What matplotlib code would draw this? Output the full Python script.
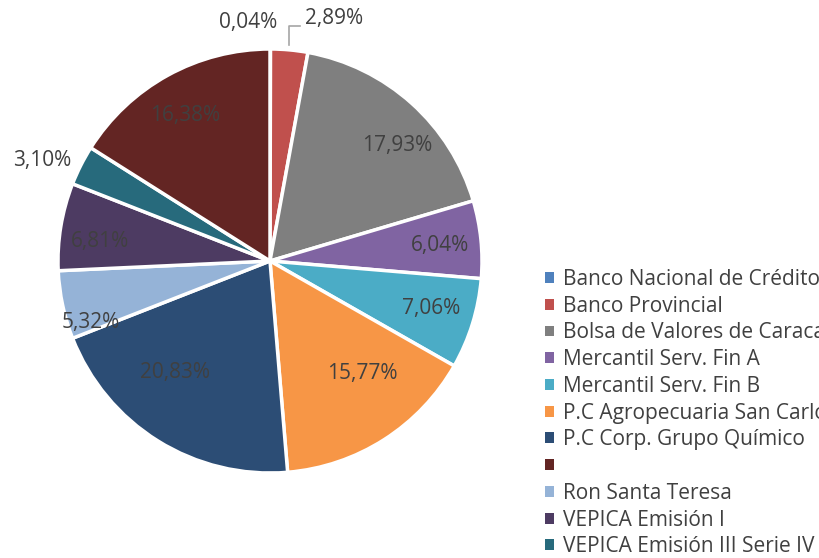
import matplotlib.pyplot as plt
from matplotlib.patches import Patch

# slices in drawing order (clockwise from the top)
slice_names = ['Banco Nacional de Crédito', 'Banco Provincial', 'Bolsa de Valores de Caracas',
               'Mercantil Serv. Fin A', 'Mercantil Serv. Fin B', 'P.C Agropecuaria San Carlos',
               'P.C Corp. Grupo Químico', 'Ron Santa Teresa', 'VEPICA Emisión I',
               'VEPICA Emisión III Serie IV', '']
values = [0.04, 2.89, 17.93, 6.04, 7.06, 15.77, 20.83, 5.32, 6.81, 3.10, 16.38]
labels = ['0,04%', '2,89%', '17,93%', '6,04%', '7,06%', '15,77%', '20,83%',
          '5,32%', '6,81%', '3,10%', '16,38%']

# legend order as shown in the chart
legend_names = ['Banco Nacional de Crédito', 'Banco Provincial', 'Bolsa de Valores de Caracas',
                'Mercantil Serv. Fin A', 'Mercantil Serv. Fin B', 'P.C Agropecuaria San Carlos',
                'P.C Corp. Grupo Químico', '', 'Ron Santa Teresa', 'VEPICA Emisión I',
                'VEPICA Emisión III Serie IV']

colors = {
    'Banco Nacional de Crédito': '#4F81BD',
    'Banco Provincial': '#C0504D',
    'Bolsa de Valores de Caracas': '#7F7F7F',
    'Mercantil Serv. Fin A': '#8064A2',
    'Mercantil Serv. Fin B': '#4BACC6',
    'P.C Agropecuaria San Carlos': '#F79646',
    'P.C Corp. Grupo Químico': '#2C4D75',
    '': '#632523',
    'Ron Santa Teresa': '#95B3D7',
    'VEPICA Emisión I': '#4D3B62',
    'VEPICA Emisión III Serie IV': '#276A7C',
}

# label positions (data units, pie radius = 1)
label_pos = [(-0.104, 1.127), (0.302, 1.146), (0.599, 0.547), (0.802, 0.071),
             (0.759, -0.222), (0.434, -0.533), (-0.448, -0.524), (-0.844, -0.288),
             (-0.802, 0.090), (-1.075, 0.476), (-0.401, 0.684)]

plt.rcParams['font.family'] = ['Open Sans', 'DejaVu Sans']
text_color = '#404040'

fig = plt.figure(figsize=(8.2, 5.58), dpi=100)
ax = fig.add_axes([58 / 820, (558 - 473) / 558, 424 / 820, 424 / 558])

ax.pie(values, colors=[colors[n] for n in slice_names], startangle=90, counterclock=False,
       radius=1, wedgeprops=dict(edgecolor='white', linewidth=2.5))
ax.set_xlim(-1, 1)
ax.set_ylim(-1, 1)

for (x, y), lab in zip(label_pos, labels):
    ax.text(x, y, lab, ha='center', va='center', fontsize=15, color=text_color)

# leader line for the small slice
ax.plot([0.090, 0.090, 0.142], [1.02, 1.108, 1.108], color='#A6A6A6', lw=1.2, clip_on=False)

# legend runs off the right edge, as in the original
handles = [Patch(facecolor=colors[n], edgecolor='none') for n in legend_names]
leg = fig.legend(handles, [n if n else ' ' for n in legend_names], loc='upper left',
                 bbox_to_anchor=(545 / 820, 1 - 269 / 558), frameon=False, fontsize=15,
                 handlelength=0.43, handleheight=0.43, handletextpad=0.43, labelspacing=0.275,
                 borderaxespad=0, borderpad=0)
for t in leg.get_texts():
    t.set_color(text_color)

fig.savefig('out.png', dpi=100)
